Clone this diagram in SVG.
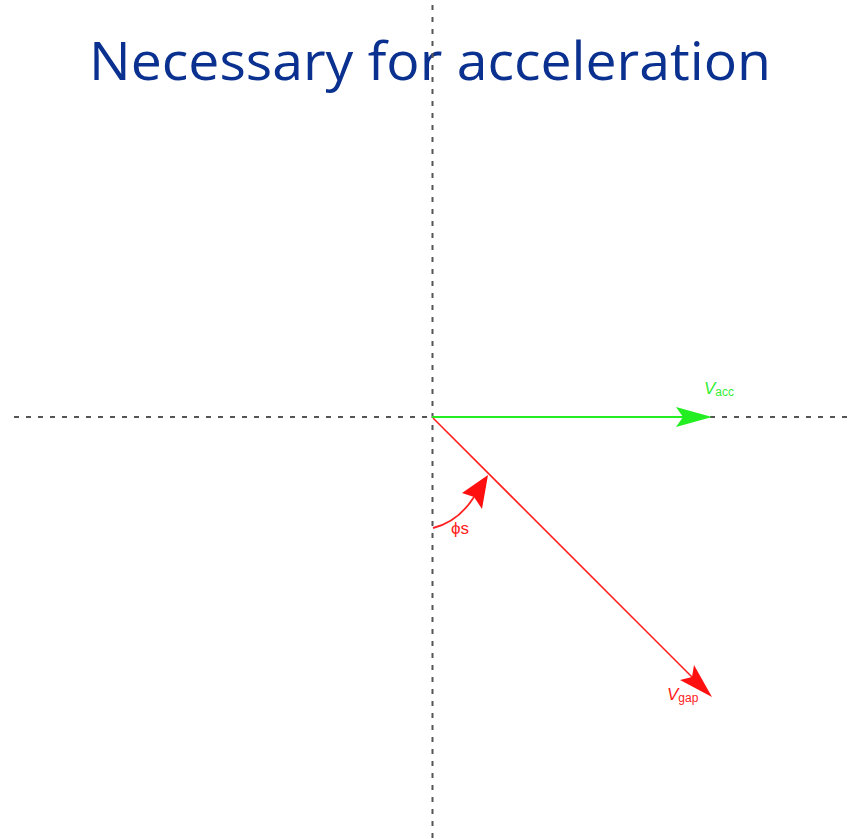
<svg xmlns="http://www.w3.org/2000/svg" width="854" height="839" viewBox="0 0 854 839">
<style>
.axis{stroke:#555;stroke-width:2;stroke-dasharray:5 7;fill:none}
.title{font-family:"Open Sans","Liberation Sans",sans-serif;font-size:53px;fill:#0a318f}
.lbl{font-family:"Liberation Sans",Arial,sans-serif;font-size:17px}
.sub{font-size:12px}
</style>
<rect width="854" height="839" fill="#fff"/>
<text id="title" class="title" x="430" y="80" text-anchor="middle" textLength="682" lengthAdjust="spacingAndGlyphs">Necessary for acceleration</text>
<g id="axes">
<line class="axis" x1="432.5" y1="5" x2="432.5" y2="839"/>
<line class="axis" x1="14" y1="417" x2="848" y2="417"/>
</g>
<g id="connectors">
<g id="vacc">
<line x1="432" y1="417" x2="690" y2="417" stroke="#22ee22" stroke-width="2"/>
<polygon points="712,417 676,407 683,417 676,427" fill="#22ee22"/>
</g>
<g id="vgap">
<line x1="433" y1="418" x2="695" y2="680" stroke="#ff2020" stroke-width="1.6"/>
<polygon points="712,697 680,680 692,677 694,665" fill="#ff1010"/>
</g>
<g id="phis-arc">
<path d="M433,528 Q458,522 474,497" stroke="#ff2020" stroke-width="1.8" fill="none"/>
<polygon points="488,475 462,493 474,497 482,509" fill="#ff1010"/>
</g>
</g>
<g id="labels">
<text class="lbl" x="704" y="394" fill="#33ee33" font-style="italic">V<tspan class="sub" font-style="normal" dy="2">acc</tspan></text>
<text class="lbl" x="451" y="534" fill="#ff2020" font-size="14">ϕs</text>
<text class="lbl" x="667" y="700" fill="#ff2020" font-style="italic">V<tspan class="sub" font-style="normal" dy="2">gap</tspan></text>
</g>
</svg>
